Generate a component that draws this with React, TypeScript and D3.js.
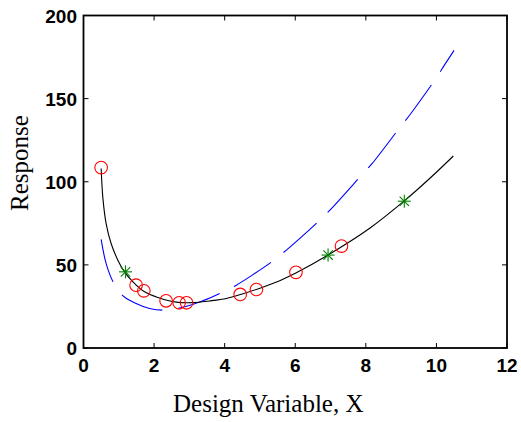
import React from "react";
import * as d3 from "d3";

// fitted response curve (black)
const fitX = [0.5, 0.55, 0.64, 0.78, 0.97, 1.16, 1.4, 1.73, 2.11, 2.63, 3.1, 3.57, 4.05, 4.5, 5.0, 5.56, 6.03, 6.93, 8.11, 9.08, 9.8, 10.48];
const fitY = [108, 90, 75, 63, 53, 45.8, 39.8, 33.8, 30.4, 27.6, 27.3, 28.3, 29.8, 32.5, 36, 40.5, 45.2, 55.9, 72, 88.3, 101.8, 115.5];

// second curve (blue dashed)
const altX = [0.5, 0.64, 0.85, 1.12, 1.49, 1.87, 2.28, 2.87, 3.38, 3.9, 4.33, 4.85, 5.37, 5.75, 6.13, 6.7, 7.03, 7.88, 8.18, 8.96, 9.25, 10.0, 10.24, 10.5];
const altY = [65.3, 50.9, 39.3, 31.4, 26.8, 23.8, 22.8, 24.8, 28.4, 33.2, 37.8, 44.8, 52.4, 58.9, 65.9, 77, 84, 104, 111, 132.5, 140.3, 162.6, 170.6, 179];

// sample points (red circles)
const sampleX = [0.5, 1.49, 1.71, 2.34, 2.71, 2.92, 4.44, 4.9, 6.02, 7.31];
const sampleY = [108.5, 37.8, 34.4, 28.4, 27.2, 27.2, 32.2, 35.2, 45.5, 61.3];

// check points (green stars)
const checkX = [1.19, 6.93, 9.09];
const checkY = [45.8, 55.9, 88.3];

const xTicks = [0, 2, 4, 6, 8, 10, 12];
const yTicks = [0, 50, 100, 150, 200];

export default function App() {
  const W = 521, H = 422;
  const left = 83.5, right = 507, top = 15.5, bottom = 348;
  const x = d3.scaleLinear().domain([0, 12]).range([left, right]);
  const y = d3.scaleLinear().domain([0, 200]).range([bottom, top]);

  const line = d3.line<[number, number]>()
    .x(d => x(d[0]))
    .y(d => y(d[1]))
    .curve(d3.curveCatmullRom.alpha(0.5));

  const fitPts = fitX.map((v, i) => [v, fitY[i]] as [number, number]);
  const altPts = altX.map((v, i) => [v, altY[i]] as [number, number]);

  const tickFont = "'Liberation Sans', Arial, sans-serif";
  const labelFont = "'Liberation Serif', 'Times New Roman', serif";
  const tl = 5;

  const star = (cx: number, cy: number, i: number) => {
    const r = 6.5;
    const d = r * 0.72;
    return (
      <g key={"s" + i} stroke="#008000" strokeWidth={1.1}>
        <line x1={cx - r} y1={cy} x2={cx + r} y2={cy} />
        <line x1={cx} y1={cy - r} x2={cx} y2={cy + r} />
        <line x1={cx - d} y1={cy - d} x2={cx + d} y2={cy + d} />
        <line x1={cx - d} y1={cy + d} x2={cx + d} y2={cy - d} />
      </g>
    );
  };

  return (
    <svg width={W} height={H} style={{ position: "absolute", left: 0, top: 0, background: "#fff" }}>
      <rect x={0} y={0} width={W} height={H} fill="#fff" />
      <path d={line(altPts) || ""} fill="none" stroke="#0000ff" strokeWidth={1.1} strokeDasharray="44,16" />
      <path d={line(fitPts) || ""} fill="none" stroke="#000" strokeWidth={1.1} />
      {sampleX.map((v, i) => (
        <circle key={"c" + i} cx={x(v)} cy={y(sampleY[i])} r={6.3} fill="none" stroke="#ff0000" strokeWidth={1.1} />
      ))}
      {checkX.map((v, i) => star(x(v), y(checkY[i]), i))}

      {/* axes box and ticks */}
      <rect x={left} y={top} width={right - left} height={bottom - top} fill="none" stroke="#000" strokeWidth={1.8} />
      {xTicks.map(t => (
        <g key={"xt" + t}>
          <line x1={x(t)} x2={x(t)} y1={bottom} y2={bottom - tl} stroke="#000" />
          <line x1={x(t)} x2={x(t)} y1={top} y2={top + tl} stroke="#000" />
          <text x={x(t)} y={bottom + 23.5} textAnchor="middle" fontFamily={tickFont} fontWeight="bold" fontSize={19}>{t}</text>
        </g>
      ))}
      {yTicks.map(t => (
        <g key={"yt" + t}>
          <line x1={left} x2={left + tl} y1={y(t)} y2={y(t)} stroke="#000" />
          <line x1={right} x2={right - tl} y1={y(t)} y2={y(t)} stroke="#000" />
          <text x={77} y={y(t) + 7} textAnchor="end" fontFamily={tickFont} fontWeight="bold" fontSize={19}>{t}</text>
        </g>
      ))}
      <text x={(left + right) / 2 - 27} y={411.5} textAnchor="middle" fontFamily={labelFont} fontSize={25}>Design Variable, X</text>
      <text transform={`translate(27.5,${163}) rotate(-90)`} textAnchor="middle" fontFamily={labelFont} fontSize={25}>Response</text>
    </svg>
  );
}
